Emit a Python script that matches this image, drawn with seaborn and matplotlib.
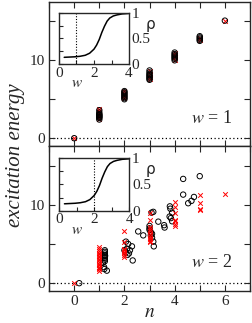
import matplotlib
matplotlib.use("Agg")
import matplotlib.pyplot as plt
import seaborn as sns
import numpy as np

sns.set_style("ticks")
plt.rcParams['font.family'] = ['Liberation Serif', 'DejaVu Serif']
plt.rcParams['mathtext.fontset'] = 'stix'

# ---------------- data ----------------
# top panel (w = 1)
top_circ_n = [0, 1, 1, 1, 1, 1, 1, 1, 1, 1,
              2, 2, 2, 2, 2, 2, 2, 2,
              3, 3, 3, 3, 3, 3, 3, 3,
              4, 4, 4, 4, 4, 4, 4,
              5, 5, 5, 5, 5, 6]
top_circ_E = [0.0, 2.4, 2.6, 2.7, 2.8, 2.9, 3.0, 3.1, 3.3, 3.6,
              5.0, 5.15, 5.3, 5.45, 5.6, 5.75, 5.9, 6.05,
              7.5, 7.65, 7.8, 7.95, 8.1, 8.25, 8.45, 8.7,
              10.0, 10.2, 10.35, 10.5, 10.65, 10.8, 11.0,
              12.5, 12.65, 12.8, 12.95, 13.1, 15.1]
top_x_n = [0, 1, 1, 1, 1, 1, 1, 2, 2, 2, 2, 3, 3, 3, 3, 4, 4, 4, 4, 5, 5, 6]
top_x_E = [0.0, 2.5, 2.8, 3.0, 3.2, 3.5, 3.8, 5.1, 5.4, 5.7, 6.0,
           7.6, 7.9, 8.2, 8.6, 10.1, 10.4, 10.7, 10.9, 12.6, 12.9, 15.0]

# bottom panel (w = 2)
bot_circ_n = [0.2,
              1.22, 1.22, 1.22, 1.22, 1.22, 1.22, 1.22, 1.22,
              1.23, 1.14, 1.19, 1.30, 1.20,
              2.06, 2.15, 2.10, 2.00, 2.22, 2.05, 2.12, 2.18, 2.33, 2.30,
              2.55, 2.75,
              3.08, 3.15, 3.00, 3.00, 3.05, 3.05, 3.10, 3.15, 3.17, 3.00, 3.10,
              3.35, 3.58, 3.60,
              3.81, 3.83, 3.90, 3.80, 3.85, 3.90,
              4.34, 4.34, 4.54, 4.67, 4.77, 5.00]
bot_circ_E = [0.0,
              4.2, 4.0, 3.8, 3.6, 3.4, 3.2, 3.0, 2.8,
              3.5, 2.6, 2.05, 1.6, 1.8,
              5.3, 5.0, 4.4, 4.2, 4.2, 3.9, 3.6, 3.8, 2.9, 4.7,
              6.6, 6.1,
              9.0, 9.1, 7.3, 7.0, 6.5, 6.1, 5.8, 5.3, 4.7, 6.8, 6.3,
              7.85, 7.4, 7.1,
              9.8, 9.5, 9.0, 8.5, 8.3, 7.9,
              13.3, 11.3, 10.2, 10.5, 11.0, 13.65]
bot_x_n = [0,
           1, 1, 1, 1, 1, 1, 1, 1, 1, 1, 1, 1, 1, 1, 1, 1,
           2, 2, 2, 2, 2, 2, 2, 2,
           3, 3, 3, 3, 3, 3, 3, 3, 3, 3, 3,
           4, 4, 4, 4, 4, 4, 4,
           5, 5, 5, 5, 6]
bot_x_E = [0.0,
           1.6, 1.75, 1.9, 2.05, 2.3, 2.5, 2.7, 2.9, 3.1, 3.3, 3.5, 3.7, 3.9, 4.1, 4.3, 4.6,
           6.6, 5.2, 4.4, 4.2, 4.0, 3.8, 3.6, 3.4,
           9.0, 8.0, 7.2, 6.9, 6.6, 6.3, 6.0, 5.8, 5.6, 5.4, 5.2,
           10.4, 9.7, 9.0, 8.1, 7.9, 7.6, 7.3,
           11.2, 10.2, 9.5, 9.3, 11.4]

# inset curve rho(w)
w_curve = [0.3, 0.6, 0.9, 1.2, 1.5, 1.75, 2.0, 2.15, 2.3, 2.45, 2.6, 2.75, 2.9, 3.1, 3.3, 3.6, 4.0]
rho_curve = [0.13, 0.135, 0.14, 0.15, 0.17, 0.21, 0.29, 0.37, 0.48, 0.62, 0.74, 0.84, 0.90, 0.94, 0.96, 0.98, 0.99]

panel_w = [1, 2]

# ---------------- figure ----------------
fig = plt.figure(figsize=(2.53, 3.23), dpi=100)
ax1 = fig.add_axes([0.194, 0.548, 0.794, 0.446])
ax2 = fig.add_axes([0.194, 0.099, 0.794, 0.449])

FS = 11

def style_main(ax, show_xlabels):
    ax.set_xlim(-1, 7)
    ax.set_ylim(-1, 17.5)
    ax.axhline(0, color='black', ls=(0, (1, 2)), lw=0.9, zorder=0)
    ax.set_xticks(range(-1, 8))
    ax.set_xticklabels(['', '0', '', '2', '', '4', '', '6', ''] if show_xlabels else [''] * 9)
    ax.set_yticks([0, 5, 10, 15])
    ax.set_yticklabels(['0', '', '10', ''])
    ax.tick_params(direction='in', top=True, right=True, length=4, width=0.8,
                   labelsize=FS, pad=3)
    for s in ax.spines.values():
        s.set_linewidth(1.0)
    ax.set_xlabel('')
    ax.set_ylabel('')

def draw_pts(ax, cn, cE, xn, xE, circ_on_top):
    zc, zx = (5, 4) if circ_on_top else (3, 4)
    sns.scatterplot(x=cn, y=cE, ax=ax, marker='o', s=15, fc='none', ec='black',
                    linewidth=0.7, zorder=zc)
    sns.scatterplot(x=xn, y=xE, ax=ax, marker='x', s=11, color='red',
                    linewidth=0.7, zorder=zx)

draw_pts(ax1, top_circ_n, top_circ_E, top_x_n, top_x_E, True)
draw_pts(ax2, bot_circ_n, bot_circ_E, bot_x_n, bot_x_E, False)
style_main(ax1, False)
style_main(ax2, True)

ax1.text(0.91, 0.19, r'$w$ = 1', transform=ax1.transAxes, fontsize=FS + 2,
         ha='right', va='center', family=['Liberation Serif'])
ax2.text(0.91, 0.20, r'$w$ = 2', transform=ax2.transAxes, fontsize=FS + 2,
         ha='right', va='center', family=['Liberation Serif'])
ax2.set_xlabel(r'$n$', fontsize=FS + 3, labelpad=-3)
fig.text(0.06, 0.52, 'excitation energy', rotation=90, fontsize=15,
         style='italic', ha='center', va='center')

# ---------------- insets ----------------
inset_pos = [[0.233, 0.802, 0.277, 0.158], [0.234, 0.348, 0.277, 0.162]]
for pos, wv in zip(inset_pos, panel_w):
    ai = fig.add_axes(pos)
    sns.lineplot(x=w_curve, y=rho_curve, ax=ai, color='black', lw=1.1,
                 sort=False, estimator=None)
    ai.axvline(wv, color='black', ls=(0, (1, 1.5)), lw=0.8)
    ai.set_xlim(0, 4)
    ai.set_ylim(0, 1)
    ai.set_xticks([0, 1, 2, 3, 4])
    ai.set_xticklabels(['0', '', '2', '', '4'])
    ai.set_yticks([0, 0.25, 0.5, 0.75, 1])
    ai.set_yticklabels(['0', '', '0.5', '', '1'])
    ai.yaxis.tick_right()
    ai.tick_params(axis='y', left=True, right=False, labelleft=False, labelright=True)
    ai.tick_params(direction='in', length=3, width=0.8, labelsize=FS, pad=2)
    for s in ai.spines.values():
        s.set_linewidth(1.0)
    ai.text(1.0, -0.38, r'$w$', transform=ai.transData, fontsize=FS,
            ha='center', va='center')
    ai.text(1.30, 0.78, 'ρ', transform=ai.transAxes, fontsize=FS,
            ha='center', va='center', family=['DejaVu Sans'])
    ai.set_xlabel('')
    ai.set_ylabel('')

fig.savefig('out.png', dpi=100)
